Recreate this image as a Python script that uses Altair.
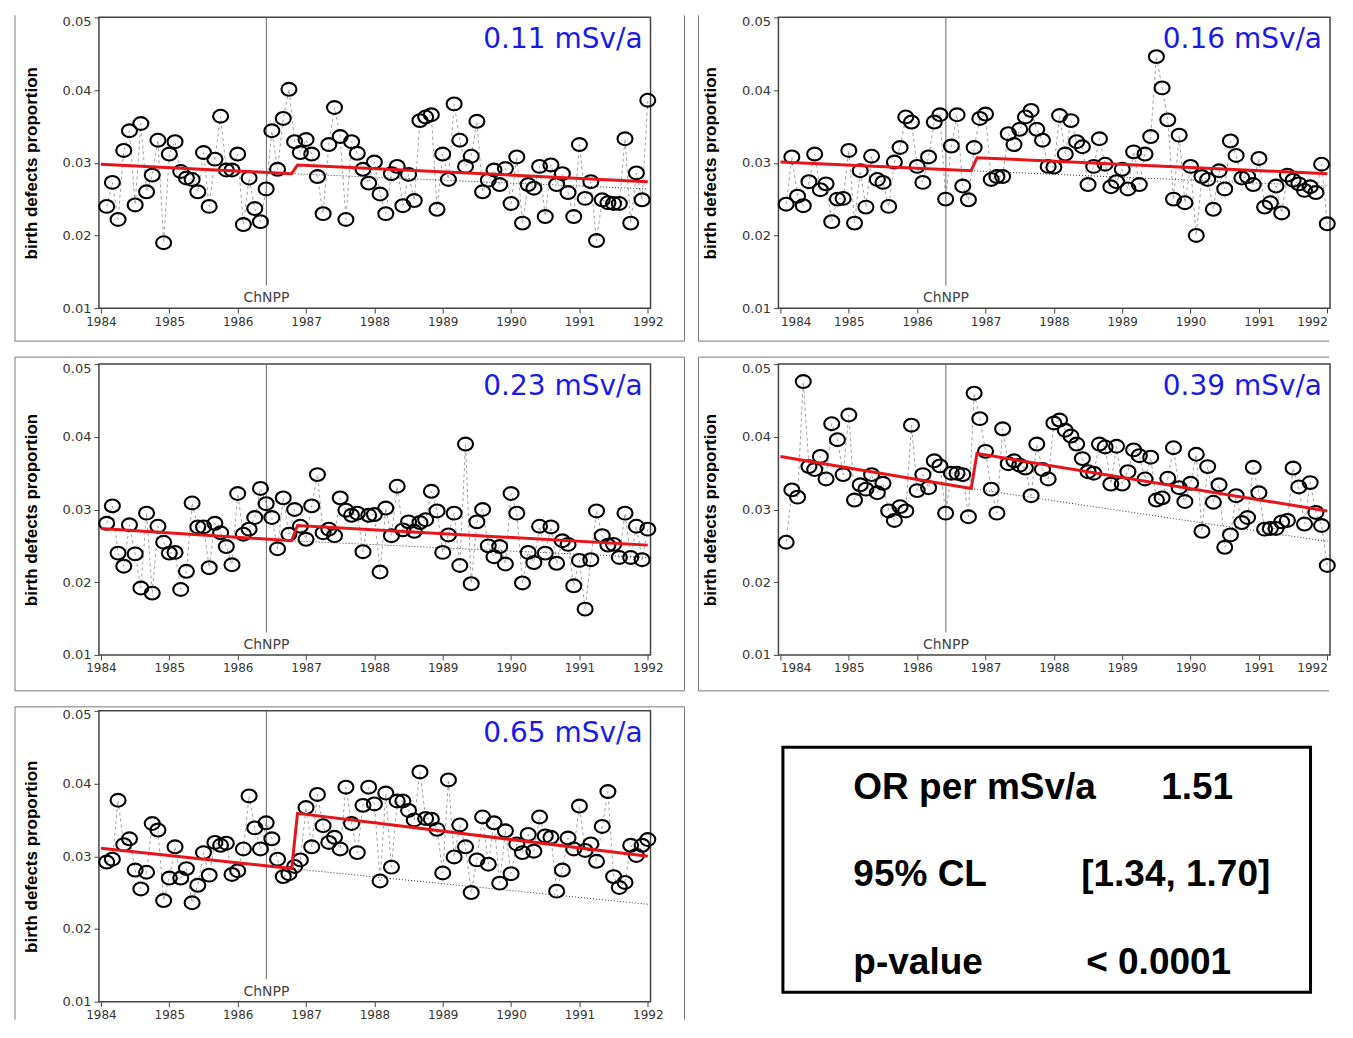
import altair as alt
import pandas as pd

# ---------------- data ----------------
months = [1984 + (i + 1) / 12 for i in range(96)]

p1 = [0.0240, 0.0273, 0.0222, 0.0317, 0.0344, 0.0242, 0.0354, 0.0260, 0.0283, 0.0331, 0.0190, 0.0312,
      0.0329, 0.0288, 0.0279, 0.0277, 0.0260, 0.0314, 0.0240, 0.0305, 0.0364, 0.0290, 0.0290, 0.0312,
      0.0215, 0.0279, 0.0237, 0.0219, 0.0264, 0.0344, 0.0291, 0.0361, 0.0401, 0.0329, 0.0314, 0.0332,
      0.0312, 0.0281, 0.0230, 0.0325, 0.0376, 0.0336, 0.0222, 0.0329, 0.0313, 0.0291, 0.0272, 0.0301,
      0.0257, 0.0230, 0.0285, 0.0295, 0.0241, 0.0284, 0.0248, 0.0358, 0.0363, 0.0366, 0.0236, 0.0312,
      0.0277, 0.0381, 0.0331, 0.0295, 0.0309, 0.0357, 0.0260, 0.0276, 0.0290, 0.0270, 0.0292, 0.0244,
      0.0308, 0.0217, 0.0270, 0.0265, 0.0295, 0.0226, 0.0297, 0.0270, 0.0285, 0.0259, 0.0226, 0.0325,
      0.0251, 0.0274, 0.0193, 0.0249, 0.0245, 0.0244, 0.0244, 0.0333, 0.0217, 0.0286, 0.0249, 0.0386]

p2 = [0.0243, 0.0308, 0.0254, 0.0241, 0.0274, 0.0312, 0.0263, 0.0271, 0.0219, 0.0250, 0.0251, 0.0317,
      0.0217, 0.0289, 0.0239, 0.0309, 0.0277, 0.0273, 0.0240, 0.0301, 0.0321, 0.0363, 0.0356, 0.0295,
      0.0273, 0.0308, 0.0356, 0.0366, 0.0250, 0.0323, 0.0366, 0.0268, 0.0249, 0.0321, 0.0361, 0.0367,
      0.0277, 0.0281, 0.0281, 0.0340, 0.0325, 0.0346, 0.0363, 0.0372, 0.0346, 0.0331, 0.0295, 0.0294,
      0.0365, 0.0312, 0.0358, 0.0329, 0.0322, 0.0270, 0.0295, 0.0333, 0.0298, 0.0267, 0.0274, 0.0291,
      0.0264, 0.0315, 0.0270, 0.0312, 0.0336, 0.0446, 0.0403, 0.0359, 0.0250, 0.0338, 0.0245, 0.0295,
      0.0200, 0.0281, 0.0277, 0.0236, 0.0289, 0.0264, 0.0330, 0.0310, 0.0279, 0.0281, 0.0270, 0.0306,
      0.0239, 0.0245, 0.0268, 0.0231, 0.0283, 0.0276, 0.0271, 0.0262, 0.0267, 0.0259, 0.0298, 0.0216]

p3 = [0.0281, 0.0305, 0.0240, 0.0222, 0.0279, 0.0239, 0.0192, 0.0295, 0.0185, 0.0277, 0.0255, 0.0240,
      0.0241, 0.0190, 0.0215, 0.0309, 0.0276, 0.0276, 0.0220, 0.0281, 0.0268, 0.0249, 0.0224, 0.0322,
      0.0266, 0.0273, 0.0289, 0.0329, 0.0308, 0.0289, 0.0246, 0.0316, 0.0266, 0.0300, 0.0277, 0.0259,
      0.0305, 0.0348, 0.0268, 0.0273, 0.0264, 0.0316, 0.0299, 0.0292, 0.0295, 0.0242, 0.0292, 0.0293,
      0.0214, 0.0302, 0.0264, 0.0332, 0.0272, 0.0283, 0.0270, 0.0282, 0.0286, 0.0325, 0.0298, 0.0241,
      0.0265, 0.0295, 0.0223, 0.0390, 0.0198, 0.0283, 0.0300, 0.0250, 0.0235, 0.0249, 0.0225, 0.0322,
      0.0295, 0.0199, 0.0241, 0.0227, 0.0277, 0.0240, 0.0276, 0.0226, 0.0257, 0.0252, 0.0195, 0.0230,
      0.0163, 0.0231, 0.0298, 0.0264, 0.0251, 0.0252, 0.0234, 0.0295, 0.0234, 0.0277, 0.0231, 0.0273]

p4 = [0.0255, 0.0327, 0.0317, 0.0476, 0.0359, 0.0355, 0.0373, 0.0342, 0.0418, 0.0396, 0.0348, 0.0430,
      0.0313, 0.0334, 0.0328, 0.0348, 0.0323, 0.0336, 0.0298, 0.0285, 0.0304, 0.0298, 0.0416, 0.0326,
      0.0348, 0.0330, 0.0367, 0.0360, 0.0295, 0.0350, 0.0350, 0.0348, 0.0290, 0.0460, 0.0425, 0.0380,
      0.0328, 0.0295, 0.0411, 0.0363, 0.0367, 0.0361, 0.0357, 0.0319, 0.0390, 0.0355, 0.0342, 0.0419,
      0.0423, 0.0409, 0.0401, 0.0390, 0.0370, 0.0352, 0.0350, 0.0390, 0.0386, 0.0335, 0.0387, 0.0335,
      0.0352, 0.0382, 0.0374, 0.0342, 0.0372, 0.0313, 0.0316, 0.0343, 0.0385, 0.0330, 0.0311, 0.0336,
      0.0376, 0.0270, 0.0359, 0.0310, 0.0334, 0.0248, 0.0265, 0.0319, 0.0282, 0.0289, 0.0358, 0.0323,
      0.0273, 0.0274, 0.0274, 0.0283, 0.0285, 0.0357, 0.0331, 0.0280, 0.0337, 0.0296, 0.0278, 0.0223]

p5 = [0.0292, 0.0296, 0.0377, 0.0316, 0.0324, 0.0281, 0.0255, 0.0278, 0.0345, 0.0336, 0.0239, 0.0270,
      0.0313, 0.0270, 0.0283, 0.0236, 0.0260, 0.0305, 0.0274, 0.0319, 0.0315, 0.0318, 0.0275, 0.0280,
      0.0310, 0.0383, 0.0339, 0.0310, 0.0346, 0.0324, 0.0296, 0.0272, 0.0276, 0.0286, 0.0295, 0.0367,
      0.0313, 0.0385, 0.0342, 0.0319, 0.0326, 0.0310, 0.0395, 0.0345, 0.0305, 0.0370, 0.0395, 0.0372,
      0.0266, 0.0387, 0.0285, 0.0376, 0.0376, 0.0363, 0.0350, 0.0416, 0.0352, 0.0351, 0.0337, 0.0277,
      0.0405, 0.0299, 0.0343, 0.0313, 0.0250, 0.0295, 0.0354, 0.0289, 0.0346, 0.0263, 0.0335, 0.0276,
      0.0317, 0.0305, 0.0330, 0.0307, 0.0354, 0.0328, 0.0326, 0.0252, 0.0281, 0.0325, 0.0310, 0.0369,
      0.0308, 0.0317, 0.0293, 0.0341, 0.0389, 0.0272, 0.0257, 0.0264, 0.0315, 0.0301, 0.0315, 0.0323]

doses = ["0.11 mSv/a", "0.16 mSv/a", "0.23 mSv/a", "0.39 mSv/a", "0.65 mSv/a"]

trend_t = [1984.0, 1986.79, 1986.875, 1992.0]
trend1 = [0.0298, 0.0285, 0.0297, 0.0274]
trend2 = [0.0301, 0.0289, 0.0307, 0.0285]
trend3 = [0.0274, 0.0257, 0.0278, 0.0251]
trend4 = [0.0373, 0.0329, 0.0377, 0.0298]
trend5 = [0.0311, 0.0283, 0.0359, 0.0300]

extrap_t = [1986.79, 1992.0]
extrap1 = [0.0285, 0.0264]
extrap2 = [0.0289, 0.0268]
extrap3 = [0.0257, 0.0234]
extrap4 = [0.0329, 0.0256]
extrap5 = [0.0283, 0.0234]

chnpp_t = 1986.42
chnpp_bottom = 0.0131
x_ticks = [1984, 1985, 1986, 1987, 1988, 1989, 1990, 1991, 1992]
y_ticks = [0.01, 0.02, 0.03, 0.04, 0.05]

box_labels = ["OR per mSv/a", "95% CL", "p-value"]
box_values = ["1.51", "[1.34, 1.70]", "< 0.0001"]

# ---------------- layout / style ----------------
W, H = 552, 291
X_DOMAIN = [1983.97, 1992.04]
ELLIPSE = "M -1 0 A 1 0.857 0 1 1 1 0 A 1 0.857 0 1 1 -1 0 Z"
FRAME_COLOR = "#777777"


def frame_layer(left, right, top, bottom, sides):
    d = alt.Chart(pd.DataFrame({"k": [0]}))
    segs = []
    style = dict(color=FRAME_COLOR, strokeWidth=1)
    if "top" in sides:
        segs.append(d.mark_rule(**style).encode(x=alt.value(left), x2=alt.value(right), y=alt.value(top)))
    if "bottom" in sides:
        segs.append(d.mark_rule(**style).encode(x=alt.value(left), x2=alt.value(right), y=alt.value(bottom)))
    if "left" in sides:
        segs.append(d.mark_rule(**style).encode(y=alt.value(top), y2=alt.value(bottom), x=alt.value(left)))
    if "right" in sides:
        segs.append(d.mark_rule(**style).encode(y=alt.value(top), y2=alt.value(bottom), x=alt.value(right)))
    return segs


def make_panel(label, vals, trend, extrap, col, row):
    xkw = {}
    if col == 1:
        xkw = dict(labelFlush=5)
    xaxis = alt.Axis(values=x_ticks, format="d", title=None, grid=False, domain=False,
                     tickSize=5, labelPadding=3, labelFontSize=12, **xkw)
    yaxis = alt.Axis(values=y_ticks, format=".2f", title="birth defects proportion", grid=False,
                     domain=False, tickSize=5, labelPadding=3, titlePadding=22,
                     labelBaseline={"condition": {"test": "datum.value >= 0.0499", "value": "top"},
                                    "value": "middle"},
                     labelOffset={"condition": {"test": "datum.value >= 0.0499", "value": -2},
                                  "value": 0})
    xs = alt.X("t:Q", scale=alt.Scale(domain=X_DOMAIN, nice=False, zero=False), axis=xaxis)
    ys = alt.Y("v:Q", scale=alt.Scale(domain=[0.01, 0.05], nice=False, zero=False), axis=yaxis)

    pts = pd.DataFrame({"t": months, "v": vals})
    tr = pd.DataFrame({"t": trend_t, "v": trend})
    ex = pd.DataFrame({"t": extrap_t, "v": extrap})
    ch = pd.DataFrame({"t": [chnpp_t], "v": [0.05], "v2": [chnpp_bottom], "lab": ["ChNPP"]})
    lb = pd.DataFrame({"lab": [label]})

    conn = alt.Chart(pts).mark_line(color="#a0a0a0", strokeDash=[3, 3], strokeWidth=1).encode(xs, ys)
    vline = alt.Chart(ch).mark_rule(color="#666666", strokeWidth=1).encode(xs, ys, y2="v2:Q")
    vtext = alt.Chart(ch).mark_text(font="DejaVu Sans", fontSize=14, color="#444444",
                                    baseline="middle").encode(xs, y=alt.value(H - 10), text="lab:N")
    circ = alt.Chart(pts).mark_point(shape=ELLIPSE, filled=False, color="black", strokeWidth=2.1,
                                     size=225, opacity=1).encode(xs, ys)
    dotted = alt.Chart(ex).mark_line(color="#333333", strokeDash=[1, 2], strokeWidth=1).encode(xs, ys)
    red = alt.Chart(tr).mark_line(color="#e8141c", strokeWidth=3).encode(xs, ys)
    title = alt.Chart(lb).mark_text(font="DejaVu Sans", fontSize=28, color="#1a1ae6", align="right",
                                    baseline="middle").encode(x=alt.value(W - 8), y=alt.value(23),
                                                              text="lab:N")

    if col == 0:
        left, right = -84, 586
        sides = ["left", "right"]
    else:
        left, right = -80, W - 1
        sides = ["left"]
    if row == 0:
        top, bottom = -2, 324
        sides = sides + ["bottom"]
    elif row == 1:
        top, bottom = -7, 327
        sides = sides + ["top", "bottom"]
    else:
        top, bottom = -4, H + 18
        sides = sides + ["top"]
    frames = frame_layer(left, right, top, bottom, sides)

    return alt.layer(conn, vline, vtext, circ, dotted, red, title, *frames).properties(width=W, height=H)


series = [(p1, trend1, extrap1), (p2, trend2, extrap2), (p3, trend3, extrap3),
          (p4, trend4, extrap4), (p5, trend5, extrap5)]
panels = []
for i, (vals, tr, ex) in enumerate(series):
    panels.append(make_panel(doses[i], vals, tr, ex, i % 2, i // 2))

# ---------------- statistics box ----------------
box_df = pd.DataFrame({"row": [0, 1, 2], "label": box_labels, "value": box_values})
ysc = alt.Y("row:Q", scale=alt.Scale(domain=[-1.0057, 2.32], reverse=True, nice=False, zero=False),
            axis=None)
txt = dict(font="Liberation Sans", fontWeight="bold", fontSize=37, color="black",
           align="left", baseline="alphabetic")
box_rect = alt.Chart(pd.DataFrame({"k": [0]})).mark_rect(
    fillOpacity=0, stroke="black", strokeWidth=3).encode(
    x=alt.value(4.5), x2=alt.value(532.5), y=alt.value(36.5), y2=alt.value(281.5))
label_text = alt.Chart(box_df).mark_text(**txt).encode(x=alt.value(75), y=ysc, text="label:N")
value_x = [383, 303, 308]
value_layers = []
for r in range(3):
    value_layers.append(
        alt.Chart(box_df).transform_filter(alt.datum.row == r).mark_text(**txt).encode(
            x=alt.value(value_x[r]), y=ysc, text="value:N"))
box = alt.layer(box_rect, label_text, *value_layers).properties(
    width=W, height=H, view=alt.ViewBackground(stroke="transparent"))

chart = alt.concat(*panels, box, columns=2, spacing={"row": 56, "column": 128},
                   bounds="flush").configure_view(stroke="#444444", strokeWidth=1.5).configure_axis(
    labelFont="DejaVu Sans", labelFontSize=13, labelColor="#333333",
    tickColor="#444444", titleFont="Liberation Sans", titleFontSize=17,
    titleFontWeight="bold", titleColor="black"
)

chart.save("out.html", embed_options={"renderer": "svg", "actions": False})
